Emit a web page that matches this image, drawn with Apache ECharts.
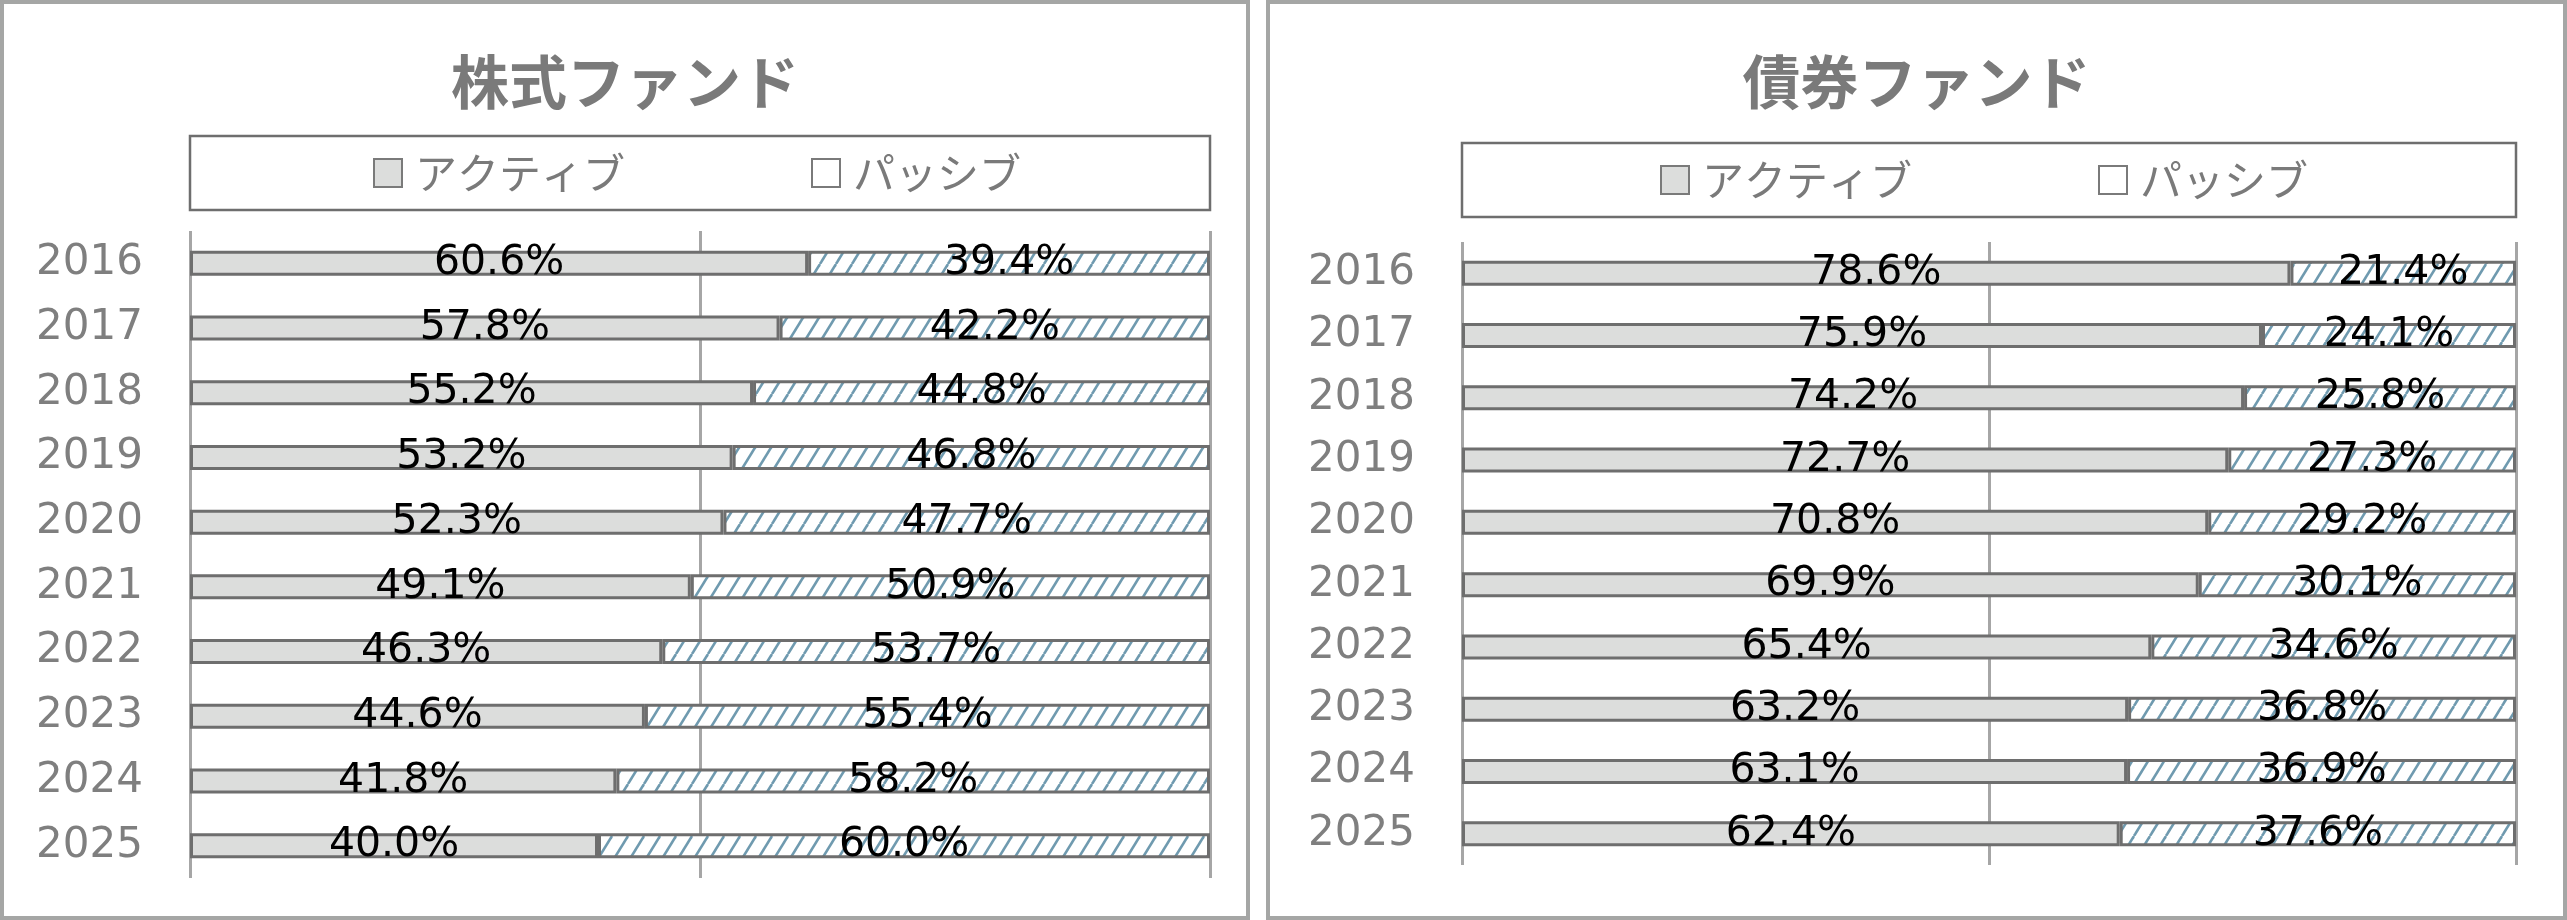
<!DOCTYPE html>
<html>
<head>
<meta charset="utf-8">
<script src="https://cdn.jsdelivr.net/npm/echarts@6/dist/echarts.min.js"></script>
<style>
  html, body { margin: 0; padding: 0; background: #fff; }
  .panel { position: absolute; top: 0; height: 920px; box-sizing: border-box; border: 4px solid #a5a6a5; }
</style>
</head>
<body>
<div id="stock" class="panel" style="left:0;width:1250px;"></div>
<div id="bond" class="panel" style="left:1266px;width:1301px;"></div>
<script>
const years = ['2016', '2017', '2018', '2019', '2020', '2021', '2022', '2023', '2024', '2025'];
const seriesNames = ['アクティブ', 'パッシブ'];

// 株式ファンド
const stockActive = [60.6, 57.8, 55.2, 53.2, 52.3, 49.1, 46.3, 44.6, 41.8, 40.0];
const stockPassive = [39.4, 42.2, 44.8, 46.8, 47.7, 50.9, 53.7, 55.4, 58.2, 60.0];
// 債券ファンド
const bondActive = [78.6, 75.9, 74.2, 72.7, 70.8, 69.9, 65.4, 63.2, 63.1, 62.4];
const bondPassive = [21.4, 24.1, 25.8, 27.3, 29.2, 30.1, 34.6, 36.8, 36.9, 37.6];

const axisTicks = [0, 50, 100];

const jpFont = '"Noto Sans CJK JP", sans-serif';
const numFont = '"DejaVu Sans", sans-serif';

// 斜線パターン
function hatch() {
  const w = 16, h = 26;
  const c = document.createElement('canvas');
  c.width = w; c.height = h;
  const ctx = c.getContext('2d');
  ctx.fillStyle = '#fff';
  ctx.fillRect(0, 0, w, h);
  ctx.strokeStyle = '#6f9aaf';
  ctx.lineWidth = 2.6;
  [-w, 0, w].forEach(dx => {
    ctx.beginPath();
    ctx.moveTo(dx, h);
    ctx.lineTo(dx + w, 0);
    ctx.stroke();
  });
  return c;
}
const pattern = {image: hatch(), repeat: 'repeat'};

function makeOption(cfg) {
  const barStyle = {borderColor: '#6e6e6e', borderWidth: 3};
  const label = {
    show: true,
    position: 'inside',
    color: '#000',
    fontFamily: numFont,
    fontSize: 41,
    formatter: p => p.value.toFixed(1) + '%'
  };
  return {
    animation: false,
    title: {
      text: cfg.title,
      left: 'center',
      top: 44,
      textStyle: {fontFamily: jpFont, fontSize: 58, fontWeight: 'bold', color: '#7a7a7a'}
    },
    graphic: [{
      type: 'rect',
      shape: {x: cfg.box[0], y: cfg.box[1], width: cfg.box[2], height: cfg.box[3]},
      style: {fill: 'none', stroke: '#6e6e6e', lineWidth: 2.5}
    }],
    legend: {
      left: cfg.legendLeft,
      top: cfg.legendTop,
      padding: 0,
      itemGap: 186,
      itemWidth: 28,
      itemHeight: 28,
      icon: 'rect',
      textStyle: {fontFamily: jpFont, fontSize: 42, color: '#7a7a7a', padding: [0, 0, 0, 8]},
      data: [
        {name: seriesNames[0], itemStyle: {color: '#dcdddc', borderColor: '#7a7a7a', borderWidth: 2}},
        {name: seriesNames[1], itemStyle: {color: '#fff', borderColor: '#7a7a7a', borderWidth: 2}}
      ]
    },
    grid: cfg.grid,
    xAxis: {
      type: 'value',
      min: axisTicks[0],
      max: axisTicks[axisTicks.length - 1],
      interval: axisTicks[1] - axisTicks[0],
      axisLabel: {show: false},
      axisLine: {show: false},
      axisTick: {show: false},
      splitLine: {show: true, lineStyle: {color: '#a6a6a6', width: 3}}
    },
    yAxis: {
      type: 'category',
      data: years,
      inverse: true,
      axisLine: {show: false},
      axisTick: {show: false},
      axisLabel: {fontFamily: numFont, fontSize: 42, color: '#7f7f7f', margin: 47}
    },
    series: [{
      name: seriesNames[0],
      type: 'bar',
      stack: 'total',
      barWidth: 25,
      data: cfg.active,
      itemStyle: Object.assign({color: '#dcdddc'}, barStyle),
      label: label
    }, {
      name: seriesNames[1],
      type: 'bar',
      stack: 'total',
      barWidth: 25,
      data: cfg.passive,
      itemStyle: Object.assign({color: pattern}, barStyle),
      label: label
    }]
  };
}

const stockChart = echarts.init(document.getElementById('stock'));
stockChart.setOption(makeOption({
  title: '株式ファンド',
  box: [186, 132, 1020, 74],
  legendLeft: 369,
  legendTop: 148,
  grid: {left: 186, right: 36, top: 227, bottom: 38},
  active: stockActive,
  passive: stockPassive
}));

const bondChart = echarts.init(document.getElementById('bond'));
bondChart.setOption(makeOption({
  title: '債券ファンド',
  box: [192, 139, 1054, 74],
  legendLeft: 390,
  legendTop: 155,
  grid: {left: 192, right: 47, top: 238, bottom: 51},
  active: bondActive,
  passive: bondPassive
}));
</script>
</body>
</html>
